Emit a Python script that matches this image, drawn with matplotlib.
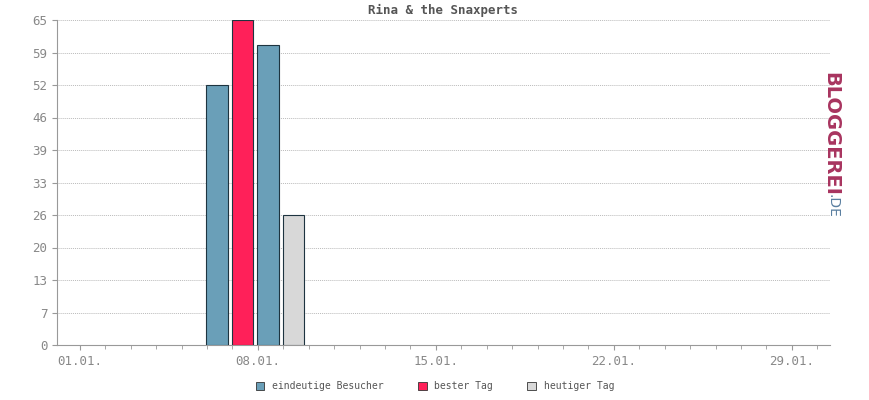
import matplotlib
matplotlib.use("Agg")
import matplotlib.pyplot as plt
import numpy as np

# data
days = [7, 8, 9, 10]
values = [52, 65, 60, 26]
colors = ["#6a9fb8", "#ff2059", "#6a9fb8", "#d8d8d8"]
series = ["eindeutige Besucher", "bester Tag", "heutiger Tag"]
series_colors = ["#6a9fb8", "#ff2059", "#d8d8d8"]
yticks = [0, 7, 13, 20, 26, 33, 39, 46, 52, 59, 65]
xtick_days = [1, 8, 15, 22, 29]
xtick_labels = ["01.01.", "08.01.", "15.01.", "22.01.", "29.01."]

plt.rcParams["font.family"] = ["DejaVu Sans Mono"]
fig = plt.figure(figsize=(8.7, 4.0), dpi=100)
ax = fig.add_axes([57/870, 55/400, 773/870, 325/400])

offset = -0.6
for d, v, c in zip(days, values, colors):
    ax.bar(d + offset, v, width=0.85, color=c, edgecolor="#1e3440", linewidth=0.8, zorder=3)

ax.set_ylim(0, 65)
ax.set_xlim(0.1, 30.5)
ax.set_yticks(np.arange(11) * 6.5)
ax.set_yticklabels([str(t) for t in yticks])
ax.set_xticks(xtick_days)
ax.set_xticklabels(xtick_labels)
ax.set_xticks(np.arange(1, 31), minor=True)
ax.yaxis.grid(True, color="#bbbbbb", linestyle=(0, (1, 1)), linewidth=0.7)
ax.tick_params(colors="#999999", labelcolor="#888888", labelsize=9)
ax.tick_params(axis="x", which="minor", length=3, color="#999999")
for s in ["top", "right"]:
    ax.spines[s].set_visible(False)
for s in ["left", "bottom"]:
    ax.spines[s].set_color("#999999")
ax.set_title("Rina & the Snaxperts", fontsize=9, color="#555555", fontweight="bold", pad=4)

handles = [plt.Rectangle((0, 0), 1, 1, facecolor=c, edgecolor="#333333", linewidth=0.6) for c in series_colors]
fig.legend(handles, series, loc="lower center", ncol=3, frameon=False, fontsize=7,
           bbox_to_anchor=(0.5, 0.0), handlelength=0.9, handleheight=0.9, columnspacing=3.5,
           labelcolor="#555555")

fig.text(0.955, 1 - 72/400, "BLOGGEREI", rotation=-90, fontsize=14, fontweight="bold",
         color="#a8345f", family="DejaVu Sans", ha="center", va="top")
fig.text(0.957, 1 - 194/400, ".DE", rotation=-90, fontsize=10, color="#5a7fa0",
         family="DejaVu Sans", ha="center", va="top")
fig.savefig("out.png")
